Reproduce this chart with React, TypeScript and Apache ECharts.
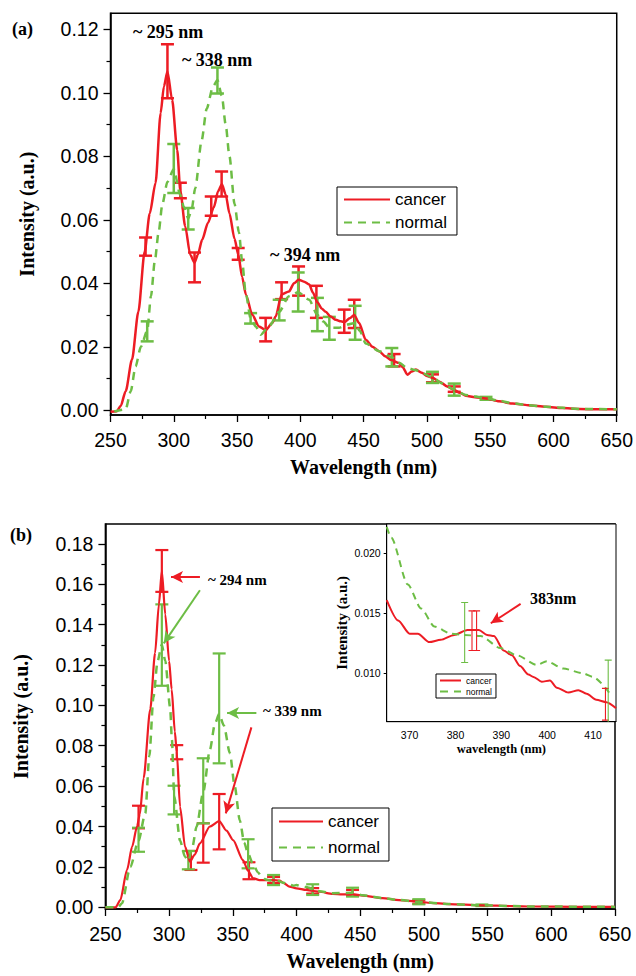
import React, { useEffect, useRef } from 'react';
import * as echarts from 'echarts';

const RED = '#ed1c24';
const GREEN = '#6dbd45';
const SERIF = '"Liberation Serif", "Times New Roman", serif';
const SANS = '"Liberation Sans", Arial, Helvetica, sans-serif';

// ---------- Panel (a) ----------
const aCancer: [number, number][] = [
  [250, -0.0005], [255, -0.0003], [258, 0.0013], [262, 0.006], [267, 0.016], [272, 0.031], [277, 0.050],
  [281, 0.062], [285.6, 0.0716], [289.6, 0.0936], [292.2, 0.102], [295, 0.1067], [298.7, 0.0978],
  [302.7, 0.082], [305.2, 0.069], [309, 0.058], [313, 0.049], [316.4, 0.0465], [319, 0.049],
  [322.4, 0.0537], [327, 0.059], [331.7, 0.064], [335, 0.069], [338, 0.0712], [341, 0.068],
  [344, 0.062], [348, 0.054], [351, 0.049], [354, 0.042], [357, 0.0364], [362, 0.0301],
  [367.3, 0.0264], [372.6, 0.0252], [377.8, 0.0275], [380.5, 0.0295], [385.2, 0.0365], [391, 0.0374],
  [395, 0.040], [398.6, 0.0411], [403, 0.0405], [407, 0.0396], [410, 0.037], [413.5, 0.034],
  [417, 0.032], [420, 0.031], [424, 0.0295], [428, 0.0285], [432, 0.028], [435, 0.0278],
  [439, 0.029], [442.6, 0.030], [446.4, 0.0275], [451.7, 0.0222], [457, 0.0200], [462.3, 0.0186],
  [467, 0.017], [472, 0.0158], [478, 0.0149], [481, 0.0135], [484.6, 0.0112], [488, 0.0122],
  [491.3, 0.0128], [496, 0.0118], [500, 0.0108], [504.4, 0.0102], [510, 0.0090], [516, 0.0075],
  [521.6, 0.0064], [526, 0.0055], [530.8, 0.0046], [538, 0.0041], [546.7, 0.0037], [557, 0.0028],
  [567.7, 0.0021], [580, 0.0016], [594.1, 0.0011], [607, 0.0007], [620.5, 0.0004], [635, 0.0003],
  [650, 0.0003],
];
const aNormal: [number, number][] = [
  [253, -0.0004], [262, 0.0003], [266, 0.006], [269.8, 0.0138], [274, 0.020], [279, 0.025],
  [282, 0.036], [285, 0.047], [288, 0.056], [291, 0.065], [295, 0.072], [300, 0.076], [305, 0.068],
  [308, 0.064], [311.4, 0.0604], [314, 0.063], [317, 0.070], [322, 0.085], [326, 0.095], [331, 0.102],
  [334.5, 0.104], [338, 0.099], [341, 0.090], [344, 0.080], [348, 0.065], [351.5, 0.056],
  [354, 0.047], [356.8, 0.037], [360.7, 0.029], [364.7, 0.0264], [368.7, 0.0238], [375.2, 0.0264],
  [383.3, 0.031], [391, 0.0359], [398.3, 0.0372], [406.9, 0.0348], [413.5, 0.030], [418, 0.028],
  [423, 0.026], [430.6, 0.026], [437, 0.027], [443.3, 0.0275], [447, 0.025], [451.7, 0.021],
  [462.3, 0.0186], [472.3, 0.0167], [478, 0.0150], [484.6, 0.0133], [491.3, 0.0126], [497, 0.0116],
  [504.4, 0.0103], [512, 0.0085], [521.6, 0.0065], [530.8, 0.0048], [546.7, 0.0038], [557, 0.0030],
  [567.7, 0.0022], [580, 0.0016], [594.1, 0.0011], [620.5, 0.0004], [650, 0.0003],
];
// [wavelength, low, high]
const aCancerErr: [number, number, number][] = [
  [277.7, 0.0487, 0.0544], [295, 0.0983, 0.1153], [305.2, 0.0668, 0.0717], [316.4, 0.0403, 0.0497],
  [329.6, 0.0613, 0.0673], [337.8, 0.0673, 0.0752], [350.9, 0.0474, 0.0511], [372.6, 0.0217, 0.0291],
  [385.2, 0.0350, 0.0403], [398.6, 0.0361, 0.0453], [412.7, 0.0291, 0.0392], [434.7, 0.0244, 0.0317],
  [442.6, 0.0259, 0.0348], [474.1, 0.0138, 0.0177], [504.4, 0.0088, 0.0113], [521.6, 0.0058, 0.0075],
];
const aNormalErr: [number, number, number][] = [
  [279, 0.0217, 0.0280], [300, 0.0684, 0.0839], [311.4, 0.0569, 0.0637], [334.5, 0.0998, 0.1080],
  [360.7, 0.0273, 0.0306], [383.3, 0.0283, 0.0348], [398.3, 0.0311, 0.0434], [413.5, 0.0249, 0.0354],
  [422.9, 0.0222, 0.0294], [443.3, 0.0222, 0.0329], [472.3, 0.0138, 0.0196], [504.4, 0.0086, 0.0121],
  [521.6, 0.0046, 0.0084], [546.7, 0.0033, 0.0042],
];
const aYTicks = [0, 0.02, 0.04, 0.06, 0.08, 0.10, 0.12];
const aYMinorTicks = [0.01, 0.03, 0.05, 0.07, 0.09, 0.11];

// ---------- Panel (b) ----------
const bCancer: [number, number][] = [
  [250, 0], [258, 0], [261.7, 0.0036], [267, 0.0185], [271, 0.030], [274.8, 0.040], [277, 0.046],
  [280, 0.064], [285.2, 0.098], [289, 0.126], [292, 0.150], [294.3, 0.1666], [297, 0.145],
  [300, 0.122], [302, 0.108], [304.5, 0.087], [306, 0.077], [308.6, 0.0498], [312.5, 0.030],
  [316.4, 0.0226], [320, 0.026], [324.2, 0.0317], [332, 0.040], [339.3, 0.0427], [345, 0.038],
  [350.2, 0.0333], [358, 0.0234], [362, 0.018], [365.9, 0.0144], [371, 0.0135], [376.3, 0.0135],
  [382, 0.0135], [386.7, 0.0132], [390, 0.012], [394.5, 0.0102], [400, 0.0094], [407.6, 0.0086],
  [412.3, 0.0082], [418, 0.0077], [428.4, 0.0066], [436, 0.0064], [444, 0.0065], [452, 0.0058],
  [467.4, 0.0045], [480.5, 0.0036], [496, 0.0028], [505, 0.0022], [519.5, 0.0016], [545, 0.0010],
  [570, 0.0006], [584.6, 0.0004], [620, 0.0002], [650, 0.0002],
];
const bNormal: [number, number][] = [
  [250, 0], [260, 0], [263, 0.002], [269.5, 0.020], [276, 0.033], [281.3, 0.0465], [284.5, 0.075],
  [287.7, 0.104], [291, 0.122], [294.3, 0.130], [297, 0.122], [300.8, 0.099], [302.2, 0.083],
  [304, 0.055], [308.6, 0.033], [312.5, 0.025], [315.1, 0.023], [318, 0.029], [321.6, 0.040],
  [326.8, 0.057], [332, 0.078], [336, 0.091], [339.3, 0.0957], [343, 0.090], [347.7, 0.0763],
  [351.5, 0.060], [355.5, 0.043], [359, 0.032], [362, 0.0265], [365.7, 0.0217], [369.6, 0.0174],
  [372.5, 0.0154], [375.4, 0.0139], [379, 0.0133], [382, 0.0132], [385.5, 0.0131], [389.8, 0.0121],
  [393.4, 0.0115], [397.7, 0.0107], [400, 0.0110], [403.5, 0.0104], [407.8, 0.0100], [410, 0.0097],
  [412.9, 0.0088], [418, 0.0080], [428.4, 0.0070], [444, 0.0072], [452, 0.0060], [467.4, 0.0046],
  [480.5, 0.0036], [496, 0.0027], [519.5, 0.0016], [545, 0.0010], [584.6, 0.0004], [650, 0.0002],
];
const bCancerErr: [number, number, number][] = [
  [276, 0.0391, 0.0503], [294.3, 0.1562, 0.1769], [306, 0.0733, 0.0803], [317.1, 0.0185, 0.0279],
  [326.8, 0.0221, 0.0416], [339.3, 0.0287, 0.0561], [362.7, 0.0139, 0.0223], [382, 0.0120, 0.0150],
  [412.7, 0.0068, 0.0095], [444, 0.0057, 0.0086], [496, 0.0018, 0.0035],
];
const bNormalErr: [number, number, number][] = [
  [276, 0.0275, 0.0394], [294.3, 0.1097, 0.1500], [303.9, 0.0460, 0.0602], [315.1, 0.0188, 0.0279],
  [326.8, 0.0416, 0.0738], [339.3, 0.0713, 0.1257], [362, 0.0193, 0.0337], [382, 0.0110, 0.0160],
  [412.7, 0.0061, 0.0114], [444, 0.0053, 0.0097], [496, 0.0015, 0.0040], [545.5, 0.0006, 0.0014],
];
const bYTicks = [0, 0.02, 0.04, 0.06, 0.08, 0.10, 0.12, 0.14, 0.16, 0.18];
const bYMinorTicks = [0.01, 0.03, 0.05, 0.07, 0.09, 0.11, 0.13, 0.15, 0.17];

// ---------- Inset of (b) ----------
const iCancer: [number, number][] = [
  [365, 0.0161], [367.5, 0.0144], [370, 0.0133], [371.8, 0.0133], [374.3, 0.0126], [376.8, 0.0128],
  [379.7, 0.0132], [382.6, 0.0136], [385.1, 0.0136], [386.9, 0.0132], [388.4, 0.0131], [390.5, 0.0119],
  [392.3, 0.0115], [394.1, 0.0106], [395.9, 0.0099], [397, 0.0097], [398.8, 0.0093], [400.6, 0.0094],
  [402.1, 0.0088], [404.6, 0.0084], [406.8, 0.0086], [408.6, 0.0083], [410.7, 0.0078], [412.9, 0.0076],
  [415, 0.0071],
];
const iNormal: [number, number][] = [
  [365, 0.0222], [366, 0.0213], [369.6, 0.0174], [372.5, 0.0154], [375.4, 0.0139], [379, 0.0133],
  [381.9, 0.0132], [385.5, 0.0131], [389.8, 0.0121], [393.4, 0.0115], [397.7, 0.0107], [399.9, 0.0110],
  [403.5, 0.0104], [407.8, 0.0100], [410, 0.0097], [413.5, 0.0084],
];
const iCancerErr: [number, number, number][] = [
  [383.6, 0.0119, 0.0152], [384.6, 0.0119, 0.0152], [412.7, 0.0061, 0.00875],
];
const iNormalErr: [number, number, number][] = [
  [382.0, 0.0109, 0.0159], [413.3, 0.0058, 0.0111],
];
const iXTicks = [370, 380, 390, 400, 410];
const iYTicks = [0.010, 0.015, 0.020];

// arrows: [[x1, y1], [x2, y2]] in data units
const bArrowRed294: [number, number][] = [[324.2, 0.1635], [301.5, 0.1635]];
const bArrowGreen294: [number, number][] = [[324.2, 0.157], [295.8, 0.1307]];
const bArrowGreen339: [number, number][] = [[368.5, 0.0962], [345.5, 0.0962]];
const bArrowRed339: [number, number][] = [[364.6, 0.0891], [344.5, 0.0465]];
const iArrowRed383: [number, number][] = [[394.2, 0.01578], [387.7, 0.01417]];

function errRender(capHalf: number, color: string, width: number) {
  return (params: any, api: any) => {
    const x = api.value(0);
    const lo = api.value(1);
    const hi = api.value(2);
    const pLo = api.coord([x, lo]);
    const pHi = api.coord([x, hi]);
    const style = { stroke: color, lineWidth: width, fill: 'none' };
    return {
      type: 'group',
      children: [
        { type: 'line', shape: { x1: pLo[0], y1: pLo[1], x2: pHi[0], y2: pHi[1] }, style },
        { type: 'line', shape: { x1: pLo[0] - capHalf, y1: pLo[1], x2: pLo[0] + capHalf, y2: pLo[1] }, style },
        { type: 'line', shape: { x1: pHi[0] - capHalf, y1: pHi[1], x2: pHi[0] + capHalf, y2: pHi[1] }, style },
      ],
    };
  };
}

function arrow(pts: [number, number][], color: string) {
  return [{ coord: pts[0] }, { coord: pts[1], lineStyle: { color, width: 2, type: 'solid' } }];
}

const tickLabel = { color: '#000', fontSize: 19.5, fontFamily: SANS };
const axisLineStyle = { color: '#000', width: 1.5 };

export default function App() {
  const ref = useRef<HTMLDivElement>(null);
  useEffect(() => {
    if (!ref.current) return;
    const chart = echarts.init(ref.current, undefined, { renderer: 'svg' });
    const mainX = (gridIndex: number, min: number, max: number) => ({
      type: 'value', gridIndex, min, max, interval: 50,
      axisLine: { show: true, onZero: false, lineStyle: axisLineStyle },
      axisTick: { show: true, length: 7, lineStyle: { color: '#000', width: 1.3 } },
      minorTick: { show: true, splitNumber: 2, length: 4, lineStyle: { color: '#000', width: 1.2 } },
      axisLabel: { ...tickLabel, margin: 15 },
      splitLine: { show: false }, minorSplitLine: { show: false },
      name: 'Wavelength (nm)', nameLocation: 'middle', nameGap: 42,
      nameTextStyle: { fontFamily: SERIF, fontWeight: 'bold', fontSize: 20, color: '#000' },
    });
    const mainY = (gridIndex: number, min: number, max: number, ticks: number[]) => ({
      type: 'value', gridIndex, min, max, position: 'left',
      axisLine: { show: true, onZero: false, lineStyle: axisLineStyle },
      axisTick: { show: true, length: 7, customValues: ticks, lineStyle: { color: '#000', width: 1.3 } },
      axisLabel: { ...tickLabel, margin: 12, customValues: ticks, formatter: (v: number) => v.toFixed(2) },
      splitLine: { show: false },
      name: 'Intensity (a.u.)', nameLocation: 'middle', nameGap: 74,
      nameTextStyle: { fontFamily: SERIF, fontWeight: 'bold', fontSize: 20, color: '#000' },
    });
    const minorY = (gridIndex: number, min: number, max: number, ticks: number[]) => ({
      type: 'value', gridIndex, min, max, position: 'left',
      axisLine: { show: false },
      axisTick: { show: true, length: 4, customValues: ticks, lineStyle: { color: '#000', width: 1.2 } },
      axisLabel: { show: false },
      splitLine: { show: false },
    });

    const lineSeries = (name: string, data: [number, number][], xi: number, yi: number, color: string, dashed: boolean, width: number, extra: any = {}) => ({
      type: 'line', name, data, xAxisIndex: xi, yAxisIndex: yi, showSymbol: false, symbol: 'none',
      smooth: 0.25, smoothMonotone: 'x',
      lineStyle: { color, width, type: dashed ? [8, 6] : 'solid' },
      itemStyle: { color }, silent: true, ...extra,
    });
    const errSeries = (name: string, data: [number, number, number][], xi: number, yi: number, color: string, cap: number, width: number, z = 3) => ({
      type: 'custom', name, data, xAxisIndex: xi, yAxisIndex: yi, encode: { x: 0, y: [1, 2] },
      renderItem: errRender(cap, color, width), clip: true, silent: true, z,
    });
    const mk = (arrs: any[], size: number[], z = 5) => ({
      markLine: {
        silent: true, symbol: ['none', 'arrow'], symbolSize: size, label: { show: false }, z,
        lineStyle: { type: 'solid', width: 2 }, data: arrs,
      },
    });

    const legendBase = (left: number, top: number, fontSize: number, itemWidth: number, itemHeight: number, itemGap: number, padding: number[], z = 6) => ({
      show: true, orient: 'vertical', left, top, data: ['cancer', 'normal'],
      borderColor: '#000', borderWidth: 1, padding, itemGap, itemWidth, itemHeight, backgroundColor: '#fff',
      itemStyle: { color: 'transparent', borderWidth: 0, opacity: 0 },
      textStyle: { fontSize, fontFamily: SANS, color: '#000' }, selectedMode: false, z,
    });

    const text = (t: string, x: number, y: number, size: number, extra: any = {}) => ({
      type: 'text', x, y, z: 30,
      style: { text: t, fontFamily: SERIF, fontWeight: 'bold', fontSize: size, fill: '#000', verticalAlign: 'middle', ...extra },
    });

    chart.setOption({
      animation: false,
      backgroundColor: '#fff',
      grid: [
        { left: 110.5, right: 16.7, top: 13.3, bottom: 976 - 415, show: true, borderColor: '#000', borderWidth: 1.5 },
        { left: 105.4, right: 21, top: 524, bottom: 976 - 909, show: true, borderColor: '#000', borderWidth: 1.5 },
        { left: 386.7, right: 20, top: 524, bottom: 976 - 721.7, show: true, borderColor: '#000', borderWidth: 1, backgroundColor: '#fff', z: 8 },
      ],
      xAxis: [
        mainX(0, 250, 650),
        mainX(1, 250, 650),
        {
          type: 'value', gridIndex: 2, min: 365, max: 415, z: 9,
          axisLine: { show: true, onZero: false, lineStyle: { color: '#000', width: 1 } },
          axisTick: { show: false },
          axisLabel: { color: '#000', fontSize: 10.5, fontFamily: SANS, margin: 8, customValues: iXTicks },
          splitLine: { show: false },
          name: 'wavelength (nm)', nameLocation: 'middle', nameGap: 21,
          nameTextStyle: { fontFamily: SERIF, fontWeight: 'bold', fontSize: 12.5, color: '#000' },
        },
      ],
      yAxis: [
        mainY(0, -0.0015, 0.12505, aYTicks),
        minorY(0, -0.0015, 0.12505, aYMinorTicks),
        mainY(1, -0.00084, 0.1898, bYTicks),
        minorY(1, -0.00084, 0.1898, bYMinorTicks),
        {
          type: 'value', gridIndex: 2, min: 0.00597, max: 0.02244, position: 'left', z: 9,
          axisLine: { show: true, onZero: false, lineStyle: { color: '#000', width: 1 } },
          axisTick: { show: true, length: 3, customValues: iYTicks, lineStyle: { color: '#000', width: 1 } },
          axisLabel: { color: '#000', fontSize: 10.5, fontFamily: SANS, margin: 6, customValues: iYTicks, formatter: (v: number) => v.toFixed(3) },
          splitLine: { show: false },
          name: 'Intensity (a.u.)', nameLocation: 'middle', nameGap: 37,
          nameTextStyle: { fontFamily: SERIF, fontWeight: 'bold', fontSize: 15, color: '#000' },
        },
      ],
      legend: [
        legendBase(337, 187, 17, 46, 14, 6, [4, 10, 4, 6]),
        legendBase(272, 808, 17, 44, 14, 9, [5, 9, 5, 6]),
        legendBase(436, 674, 8.5, 21, 6, 2, [2, 4, 2, 3], 12),
      ],
      series: [
        // (a)
        errSeries('cancer err a', aCancerErr, 0, 0, RED, 6.5, 2.5),
        errSeries('normal err a', aNormalErr, 0, 0, GREEN, 6.5, 2.5),
        lineSeries('cancer', aCancer, 0, 0, RED, false, 2.5),
        lineSeries('normal', aNormal, 0, 0, GREEN, true, 2.5),
        // (b)
        errSeries('cancer err b', bCancerErr, 1, 2, RED, 6.5, 2.2),
        errSeries('normal err b', bNormalErr, 1, 2, GREEN, 6.5, 2.2),
        lineSeries('cancer', bCancer, 1, 2, RED, false, 2.2, mk([arrow(bArrowRed294, RED), arrow(bArrowRed339, RED)], [9, 12])),
        lineSeries('normal', bNormal, 1, 2, GREEN, true, 2.5, mk([arrow(bArrowGreen294, GREEN), arrow(bArrowGreen339, GREEN)], [9, 12])),
        // inset
        lineSeries('cancer', iCancer, 2, 4, RED, false, 2, { z: 10, ...mk([arrow(iArrowRed383, RED)], [9, 12], 14) }),
        lineSeries('normal', iNormal, 2, 4, GREEN, true, 2, { z: 10, lineStyle: { color: GREEN, width: 2, type: [7, 5] } }),
        errSeries('cancer err i', iCancerErr, 2, 4, RED, 3.5, 1.1, 11),
        errSeries('normal err i', iNormalErr, 2, 4, GREEN, 3.5, 1.1, 11),
      ],
      graphic: [
        text('(a)', 12, 29, 18),
        text('~ 295 nm', 133, 32, 18),
        text('~ 338 nm', 182, 60, 18),
        text('~ 394 nm', 270, 255, 18),
        text('(b)', 10, 535, 18),
        text('~ 294 nm', 208, 580, 15),
        text('~ 339 nm', 263, 711, 15),
        text('383nm', 530, 598, 16),
      ],
    });
    return () => chart.dispose();
  }, []);
  return <div ref={ref} style={{ position: 'absolute', left: 0, top: 0, width: 636, height: 976 }} />;
}
